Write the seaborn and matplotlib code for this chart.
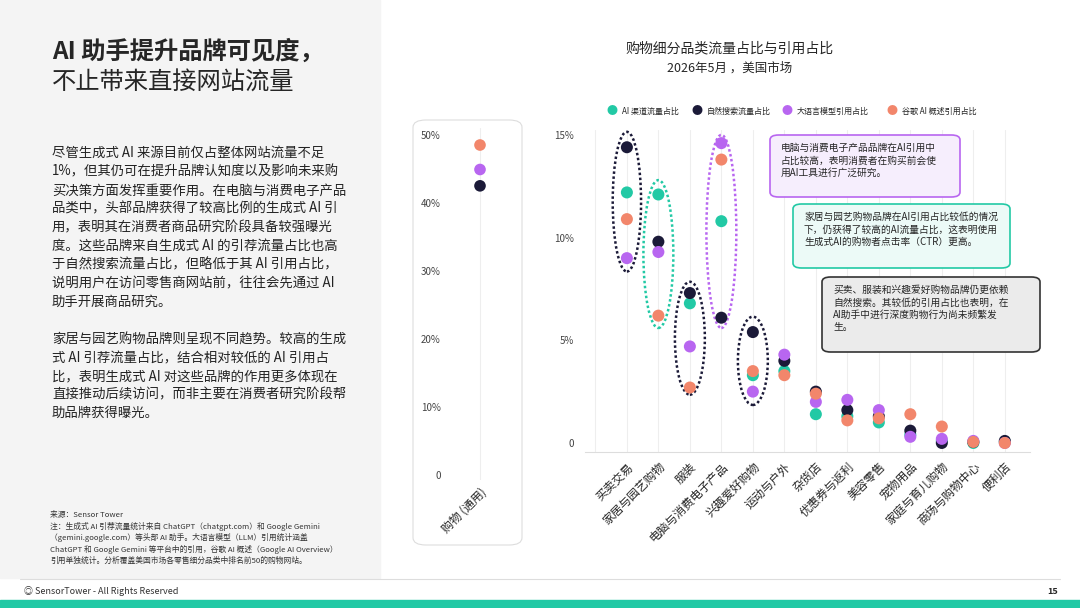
import numpy as np
import pandas as pd
import seaborn as sns
import matplotlib.pyplot as plt
from matplotlib.patches import Ellipse, FancyBboxPatch, Rectangle

categories = ["买卖交易", "家居与园艺购物", "服装", "电脑与消费电子产品", "兴趣爱好购物", "运动与户外",
              "杂货店", "优惠券与返利", "美容零售", "宠物用品", "家庭与育儿购物", "商场与购物中心", "便利店"]
ai_traffic = [12.2, 12.1, 6.8, 10.8, 3.3, 3.5, 1.4, 1.3, 1.0, 0.4, 0.1, 0.0, 0.05]
organic = [14.4, 9.8, 7.3, 6.1, 5.4, 4.0, 2.5, 1.6, 1.3, 0.6, 0.0, 0.05, 0.1]
llm_cite = [9.0, 9.3, 4.7, 14.6, 2.5, 4.3, 2.0, 2.1, 1.6, 0.3, 0.2, 0.1, 0.0]
google_ai = [10.9, 6.2, 2.7, 13.8, 3.5, 3.3, 2.4, 1.1, 1.2, 1.4, 0.8, 0.05, 0.0]
general_cat = "购物 (通用)"
general_vals = [42.5, 44.9, 48.5]  # organic, llm, google ai

series = ["AI 渠道流量占比", "自然搜索流量占比", "大语言模型引用占比", "谷歌 AI 概述引用占比"]
colors = ["#22C9A5", "#1B1A38", "#B866F0", "#F2866B"]

df = pd.DataFrame({"cat": categories * 4,
                   "x": list(range(len(categories))) * 4,
                   "val": ai_traffic + organic + llm_cite + google_ai,
                   "series": sum([[s] * len(categories) for s in series], [])})

sns.set_style("white")
plt.rcParams['font.family'] = ['Noto Sans CJK SC', 'DejaVu Sans']

W, H = 1080, 608
fig = plt.figure(figsize=(10.8, 6.08), dpi=100)

def box(l, t, r, b):
    return [l / W, 1 - b / H, (r - l) / W, (b - t) / H]

# left panel background
fig.patches.append(Rectangle((0, 1 - 578 / H), 380 / W, 578 / H, transform=fig.transFigure,
                             color="#F4F4F4", zorder=-5))
fig.patches.append(Rectangle((0, 0), 1, 8 / H, transform=fig.transFigure, color="#22C9A5", zorder=-5))
fig.lines.append(plt.Line2D([20 / W, 1060 / W], [1 - 579 / H] * 2, transform=fig.transFigure,
                            color="#DDDDDD", lw=0.8))

fig.text(52 / W, 1 - 52 / H, "AI 助手提升品牌可见度，", fontsize=17.5, fontweight="bold", va="center")
fig.text(52 / W, 1 - 83 / H, "不止带来直接网站流量", fontsize=17.5, va="center")

para1 = ["尽管生成式 AI 来源目前仅占整体网站流量不足",
         "1%，但其仍可在提升品牌认知度以及影响未来购",
         "买决策方面发挥重要作用。在电脑与消费电子产品",
         "品类中，头部品牌获得了较高比例的生成式 AI 引",
         "用，表明其在消费者商品研究阶段具备较强曝光",
         "度。这些品牌来自生成式 AI 的引荐流量占比也高",
         "于自然搜索流量占比，但略低于其 AI 引用占比，",
         "说明用户在访问零售商网站前，往往会先通过 AI",
         "助手开展商品研究。"]
para2 = ["家居与园艺购物品牌则呈现不同趋势。较高的生成",
         "式 AI 引荐流量占比，结合相对较低的 AI 引用占",
         "比，表明生成式 AI 对这些品牌的作用更多体现在",
         "直接推动后续访问，而非主要在消费者研究阶段帮",
         "助品牌获得曝光。"]
for i, line in enumerate(para1):
    fig.text(52 / W, 1 - (153 + i * 18.6) / H, line, fontsize=9.6, va="center", color="#222222")
for i, line in enumerate(para2):
    fig.text(52 / W, 1 - (340 + i * 18.3) / H, line, fontsize=9.6, va="center", color="#222222")

notes = ["来源：Sensor Tower",
         "注：生成式 AI 引荐流量统计来自 ChatGPT（chatgpt.com）和 Google Gemini",
         "（gemini.google.com）等头部 AI 助手。大语言模型（LLM）引用统计涵盖",
         "ChatGPT 和 Google Gemini 等平台中的引用，谷歌 AI 概述（Google AI Overview）",
         "引用单独统计。分析覆盖美国市场各零售细分品类中排名前50的购物网站。"]
for i, line in enumerate(notes):
    fig.text(50 / W, 1 - (515 + i * 11.5) / H, line, fontsize=5.6, va="center", color="#333333")
fig.text(24 / W, 1 - 591 / H, "◎ SensorTower - All Rights Reserved", fontsize=6.5, va="center", color="#333333")
fig.text(1058 / W, 1 - 591 / H, "15", fontsize=6.5, va="center", ha="right", fontweight="bold")

# chart title and legend
fig.text(730 / W, 1 - 48 / H, "购物细分品类流量占比与引用占比", fontsize=10, ha="center", va="center")
fig.text(730 / W, 1 - 68 / H, "2026年5月 ，美国市场", fontsize=9, ha="center", va="center")
lx = [612, 697, 787, 892]
for x, s, c in zip(lx, series, colors):
    fig.text(x / W, 1 - 111 / H, "●", color=c, fontsize=8, va="center", ha="center")
    fig.text((x + 10) / W, 1 - 111 / H, s, fontsize=5.8, va="center")

# small panel
fig.patches.append(FancyBboxPatch((413 / W, 1 - 545 / H), 109 / W, 425 / H, transform=fig.transFigure,
                                  boxstyle="round,pad=0,rounding_size=0.012", fc="white", ec="#DDDDDD",
                                  lw=0.8, zorder=-4))
ax0 = fig.add_axes(box(445, 128, 515, 480))
gdf = pd.DataFrame({"x": [0, 0, 0], "val": general_vals, "series": series[1:]})
ax0.axvline(0, color="#EEEEEE", lw=0.8, zorder=0)
sns.scatterplot(data=gdf, x="x", y="val", hue="series", palette=colors[1:], s=70, edgecolor="none",
                legend=False, ax=ax0)
ax0.set_xlim(-1, 1)
ax0.set_ylim(-0.74, 51)
ax0.set_yticks([0, 10, 20, 30, 40, 50])
ax0.set_yticklabels(["0", "10%", "20%", "30%", "40%", "50%"], fontsize=7, color="#444444")
ax0.set_xticks([0])
ax0.set_xticklabels([general_cat], rotation=45, ha="right", rotation_mode="anchor", fontsize=8.5)
ax0.set_xlabel("")
ax0.set_ylabel("")
ax0.tick_params(length=0, axis="y", pad=3)
ax0.tick_params(length=0, axis="x", pad=4)
sns.despine(ax=ax0, left=True, bottom=True)
ax0.patch.set_alpha(0)

# main chart
ax = fig.add_axes(box(585, 130, 1030, 452))
for x in range(-1, len(categories)):
    ax.axvline(x, color="#EEEEEE", lw=0.8, zorder=0)
sns.scatterplot(data=df, x="x", y="val", hue="series", palette=colors, s=75, edgecolor="none",
                legend=False, ax=ax, zorder=3)
ax.set_xlim(-1.33, 12.8)
ax.set_ylim(-0.44, 15.24)
ax.set_yticks([0, 5, 10, 15])
ax.set_yticklabels(["0", "5%", "10%", "15%"], fontsize=7, color="#444444")
ax.set_xticks(range(len(categories)))
ax.set_xticklabels(categories, rotation=45, ha="right", rotation_mode="anchor", fontsize=8.5)
ax.set_xlabel("")
ax.set_ylabel("")
ax.tick_params(length=0, axis="y", pad=8)
ax.tick_params(length=0, axis="x", pad=6)
sns.despine(ax=ax, left=True)
ax.spines["bottom"].set_color("#DDDDDD")
ax.patch.set_alpha(0)

ellipses = [(0, 11.75, 0.9, 6.8, "#1B1A38"), (1, 9.2, 0.95, 7.2, "#22C9A5"), (2, 5.1, 0.95, 5.5, "#1B1A38"),
            (3, 10.3, 0.95, 9.4, "#B866F0"), (4, 4.0, 0.95, 4.3, "#1B1A38")]
for x, y, w, h, c in ellipses:
    ax.add_patch(Ellipse((x, y), w, h, fill=False, ec=c, lw=1.8, ls=(0, (1, 1)), zorder=2))

notes_boxes = [(770, 135, 960, 197, "#F6EEFD", "#B866F0",
                "电脑与消费电子产品品牌在AI引用中\n占比较高，表明消费者在购买前会使\n用AI工具进行广泛研究。"),
               (793, 204, 1010, 268, "#ECFAF7", "#22C9A5",
                "家居与园艺购物品牌在AI引用占比较低的情况\n下，仍获得了较高的AI流量占比，这表明使用\n生成式AI的购物者点击率（CTR）更高。"),
               (822, 277, 1040, 352, "#EBEBEB", "#333333",
                "买卖、服装和兴趣爱好购物品牌仍更依赖\n自然搜索。其较低的引用占比也表明，在\nAI助手中进行深度购物行为尚未频繁发\n生。")]
for l, t, r, b, fc, ec, txt in notes_boxes:
    fig.patches.append(FancyBboxPatch((l / W, 1 - b / H), (r - l) / W, (b - t) / H, transform=fig.transFigure,
                                      boxstyle="round,pad=0,rounding_size=0.008", fc=fc, ec=ec, lw=1.2, zorder=5))
    fig.text((l + 11) / W, 1 - (t + 8) / H, txt, fontsize=7, va="top", linespacing=1.3, zorder=6)

fig.savefig("out.png", dpi=100)
